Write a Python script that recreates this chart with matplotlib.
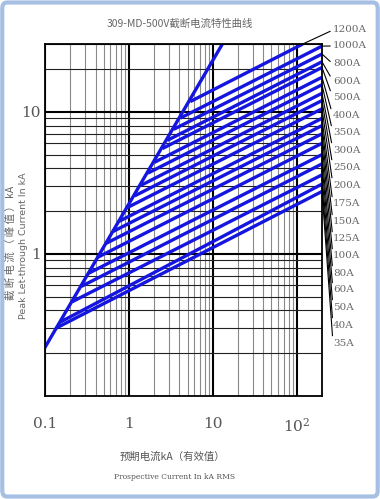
import matplotlib
matplotlib.use("Agg")
import matplotlib.pyplot as plt
from matplotlib.patches import FancyBboxPatch

# 额定电流 (A)
ratings = ['1200A', '1000A', '800A', '600A', '500A', '400A', '350A', '300A', '250A',
           '200A', '175A', '150A', '125A', '100A', '80A', '60A', '50A', '40A', '35A']
# 起点 (kA) - 在最大峰值线上
start_I = [5.38, 4.11, 3.42, 2.86, 2.50, 2.00, 1.68, 1.38, 1.17,
           0.96, 0.77, 0.65, 0.54, 0.43, 0.33, 0.27, 0.21, 0.15, 0.135]
start_Ip = [11.8, 9.04, 7.53, 6.29, 5.51, 4.40, 3.70, 3.03, 2.56,
            2.12, 1.70, 1.44, 1.19, 0.95, 0.73, 0.59, 0.46, 0.33, 0.30]
# 终点 (kA)
end_I = [118, 200, 200, 200, 200, 200, 200, 200, 200,
         200, 200, 200, 200, 200, 200, 200, 200, 200, 200]
end_Ip = [30, 29, 25.5, 22.5, 20.5, 17.5, 15.5, 13.5, 12.0,
          10.5, 9.0, 8.0, 7.0, 6.0, 5.0, 4.3, 3.6, 3.1, 2.75]

# 最大峰值线
steep_I = [0.1, 13.0]
steep_Ip = [0.22, 30]

W, H = 380, 499
def fp(x, y):
    return (x / W, 1 - y / H)

label_y = [30, 46, 64, 81, 98, 116, 133, 150, 167, 185, 204, 222, 239, 256, 273, 290, 307, 325, 343]

fig = plt.figure(figsize=(3.8, 4.99), dpi=100)
ax = fig.add_axes([45 / W, 1 - 396 / H, (322 - 45) / W, (396 - 44) / H])
ax.set_xscale('log')
ax.set_yscale('log')
ax.set_xlim(0.1, 200)
ax.set_ylim(0.1, 30)

ax.set_xticks([0.1, 1, 10, 100])
ax.set_xticklabels(['0.1', '1', '10', r'$\mathregular{10^2}$'])
ax.set_yticks([1, 10])
ax.set_yticklabels(['1', '10'])
ax.tick_params(which='both', length=0)
ax.tick_params(axis='x', pad=15)
ax.tick_params(axis='y', pad=3)
for lab in ax.get_xticklabels() + ax.get_yticklabels():
    lab.set_family('DejaVu Serif')
    lab.set_fontsize(11)
    lab.set_color('#555555')

ax.grid(which='major', color='black', lw=1.5)
ax.grid(which='minor', axis='x', color='#8a8a8a', lw=0.8)
ax.grid(which='minor', axis='y', color='#222222', lw=0.8)
ax.set_axisbelow(True)
for s in ax.spines.values():
    s.set_linewidth(1.3)

blue = '#1515e0'
ax.plot(steep_I, steep_Ip, color=blue, lw=2.4)
for i in range(len(ratings)):
    ax.plot([start_I[i], end_I[i]], [start_Ip[i], end_Ip[i]], color=blue, lw=2.4,
            solid_capstyle='butt')
    ax.annotate(ratings[i], xy=(end_I[i], end_Ip[i]), xycoords='data',
                xytext=fp(333, label_y[i]), textcoords='figure fraction',
                ha='left', va='center', fontsize=7.5, color='#666666',
                family='DejaVu Serif',
                arrowprops=dict(arrowstyle='-', color='black', lw=0.8,
                                shrinkA=0, shrinkB=0, relpos=(0, 0.5)),
                annotation_clip=False)

cjk = ['Noto Sans CJK SC', 'DejaVu Sans']
fig.text(*fp(180, 24), '309-MD-500V截断电流特性曲线', ha='center', va='center',
         fontsize=7.5, color='#666666', family=cjk)
fig.text(*fp(172, 457), '预期电流kA（有效值）', ha='center', va='center',
         fontsize=7.5, color='#555555', family=cjk)
fig.text(*fp(175, 477), 'Prospective Current In kA RMS', ha='center', va='center',
         fontsize=5.5, color='#555555', family='DejaVu Serif')
fig.text(*fp(11, 243), '截 断 电 流 （ 峰 值 ） kA', ha='center', va='center',
         rotation=90, fontsize=7.5, color='#666666', family=cjk)
fig.text(*fp(24, 246), 'Peak Let-through Current In kA', ha='center', va='center',
         rotation=90, fontsize=6.8, color='#666666', family='DejaVu Sans')

fig.patches.append(FancyBboxPatch((0.006, 0.005), 0.988, 0.99,
                                  boxstyle='round,pad=0,rounding_size=0.012',
                                  transform=fig.transFigure, fill=False,
                                  edgecolor='#a6c0e4', lw=3))

fig.savefig('out.png', dpi=100)
